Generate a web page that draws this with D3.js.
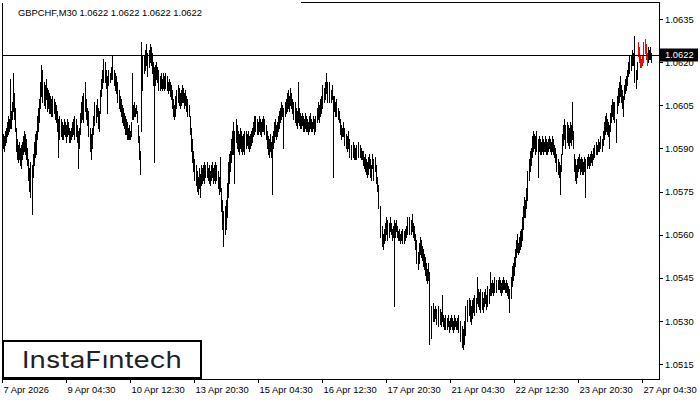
<!DOCTYPE html>
<html>
<head>
<meta charset="utf-8">
<script src="https://cdn.jsdelivr.net/npm/d3@7"></script>
<style>
  body { margin: 0; background: #fff; }
  svg { display: block; }
  .axis text { font-family: "Liberation Sans", Arial, sans-serif; font-size: 9.4px; fill: #000; }
  .axis line { stroke: #000; }
</style>
</head>
<body>
<div id="chart"></div>
<script>
const WIDTH = 700;
const HEIGHT = 400;

const SYMBOL = "GBPCHF,M30";
const LAST_OHLC = [1.0622, 1.0622, 1.0622, 1.0622];
const LAST_PRICE = 1.0622;
const PRICE_TICKS = [1.0515, 1.0530, 1.0545, 1.0560, 1.0575, 1.0590, 1.0605, 1.0620, 1.0635];
const TIME_LABELS = ["7 Apr 2026", "9 Apr 04:30", "10 Apr 12:30", "13 Apr 20:30", "15 Apr 04:30",
    "16 Apr 12:30", "17 Apr 20:30", "21 Apr 04:30", "22 Apr 12:30", "23 Apr 20:30", "27 Apr 04:30"];
const TIME_TICK_BARS = [0, 64, 128, 192, 256, 320, 384, 448, 512, 576, 640];
// bars of the marked pattern (drawn red)
const PATTERN_BARS = [636, 645];

// M30 bar highs / lows, oldest first
const HIGHS = [
    1.0596,1.0595,1.0594,1.0596,1.0597,1.0599,1.0601,1.0600,1.0614,1.0603,
    1.0606,1.0616,1.0609,1.0604,1.0597,1.0593,1.0591,1.0592,1.0590,1.0591,
    1.0592,1.0594,1.0596,1.0595,1.0593,1.0590,1.0586,1.0583,1.0581,1.0585,
    1.0584,1.0588,1.0592,1.0595,1.0596,1.0601,1.0604,1.0607,1.0613,1.0619,
    1.0617,1.0614,1.0613,1.0612,1.0614,1.0611,1.0610,1.0609,1.0608,1.0607,
    1.0608,1.0606,1.0607,1.0606,1.0605,1.0603,1.0600,1.0599,1.0601,1.0600,
    1.0599,1.0598,1.0600,1.0599,1.0598,1.0600,1.0599,1.0597,1.0596,1.0597,
    1.0599,1.0600,1.0599,1.0601,1.0600,1.0598,1.0596,1.0597,1.0602,1.0606,
    1.0608,1.0606,1.0609,1.0613,1.0607,1.0604,1.0603,1.0601,1.0597,1.0595,
    1.0597,1.0601,1.0604,1.0606,1.0605,1.0607,1.0604,1.0603,1.0610,1.0614,
    1.0617,1.0619,1.0621,1.0620,1.0617,1.0615,1.0616,1.0617,1.0616,1.0618,
    1.0622,1.0619,1.0617,1.0616,1.0615,1.0613,1.0611,1.0610,1.0608,1.0607,
    1.0605,1.0604,1.0602,1.0601,1.0600,1.0599,1.0597,1.0598,1.0596,1.0599,
    1.0616,1.0605,1.0606,1.0604,1.0605,1.0603,1.0598,1.0594,1.0589,1.0627,
    1.0622,1.0620,1.0622,1.0624,1.0626,1.0623,1.0621,1.0624,1.0626,1.0625,
    1.0623,1.0620,1.0618,1.0619,1.0620,1.0618,1.0616,1.0617,1.0615,1.0616,
    1.0614,1.0616,1.0615,1.0614,1.0616,1.0615,1.0613,1.0614,1.0613,1.0612,
    1.0610,1.0607,1.0605,1.0606,1.0608,1.0610,1.0612,1.0611,1.0609,1.0610,
    1.0612,1.0611,1.0609,1.0610,1.0608,1.0606,1.0607,1.0605,1.0601,1.0597,
    1.0593,1.0589,1.0586,1.0585,1.0584,1.0582,1.0580,1.0583,1.0581,1.0584,
    1.0583,1.0584,1.0585,1.0583,1.0584,1.0585,1.0583,1.0584,1.0582,1.0584,
    1.0585,1.0583,1.0584,1.0582,1.0585,1.0584,1.0582,1.0580,1.0587,1.0576,
    1.0572,1.0568,1.0566,1.0570,1.0572,1.0578,1.0585,1.0588,1.0589,1.0593,
    1.0596,1.0599,1.0597,1.0596,1.0600,1.0598,1.0596,1.0595,1.0597,1.0596,
    1.0594,1.0595,1.0596,1.0594,1.0596,1.0595,1.0596,1.0594,1.0595,1.0596,
    1.0597,1.0599,1.0601,1.0600,1.0601,1.0600,1.0599,1.0601,1.0600,1.0599,
    1.0600,1.0601,1.0599,1.0600,1.0598,1.0596,1.0594,1.0593,1.0595,1.0592,
    1.0594,1.0596,1.0599,1.0600,1.0598,1.0599,1.0601,1.0603,1.0604,1.0606,
    1.0605,1.0604,1.0603,1.0606,1.0607,1.0609,1.0610,1.0608,1.0611,1.0609,
    1.0607,1.0606,1.0605,1.0606,1.0604,1.0603,1.0613,1.0604,1.0602,1.0601,
    1.0602,1.0601,1.0600,1.0602,1.0601,1.0600,1.0599,1.0601,1.0602,1.0600,
    1.0599,1.0601,1.0600,1.0599,1.0601,1.0604,1.0606,1.0605,1.0607,1.0608,
    1.0610,1.0612,1.0611,1.0613,1.0616,1.0613,1.0612,1.0613,1.0611,1.0610,
    1.0612,1.0608,1.0608,1.0606,1.0607,1.0605,1.0604,1.0603,1.0600,1.0598,
    1.0597,1.0599,1.0596,1.0597,1.0595,1.0594,1.0596,1.0593,1.0592,1.0591,
    1.0590,1.0592,1.0591,1.0590,1.0589,1.0591,1.0592,1.0590,1.0591,1.0590,
    1.0589,1.0589,1.0587,1.0588,1.0586,1.0585,1.0587,1.0588,1.0586,1.0584,
    1.0588,1.0586,1.0585,1.0587,1.0584,1.0580,1.0577,1.0574,1.0570,1.0566,
    1.0563,1.0560,1.0562,1.0564,1.0566,1.0565,1.0563,1.0564,1.0566,1.0564,
    1.0562,1.0563,1.0565,1.0564,1.0565,1.0563,1.0561,1.0562,1.0560,1.0561,
    1.0562,1.0560,1.0561,1.0562,1.0563,1.0565,1.0566,1.0564,1.0566,1.0565,
    1.0567,1.0564,1.0563,1.0560,1.0558,1.0556,1.0554,1.0557,1.0559,1.0558,
    1.0556,1.0555,1.0553,1.0552,1.0550,1.0548,1.0550,1.0547,1.0544,1.0532,
    1.0535,1.0536,1.0534,1.0535,1.0533,1.0534,1.0533,1.0535,1.0534,1.0533,
    1.0539,1.0532,1.0531,1.0532,1.0530,1.0531,1.0532,1.0530,1.0531,1.0532,
    1.0531,1.0530,1.0532,1.0531,1.0530,1.0531,1.0530,1.0532,1.0530,1.0529,
    1.0528,1.0527,1.0530,1.0533,1.0535,1.0537,1.0536,1.0538,1.0537,1.0535,
    1.0537,1.0538,1.0539,1.0537,1.0538,1.0545,1.0541,1.0540,1.0539,1.0541,
    1.0540,1.0538,1.0540,1.0541,1.0539,1.0540,1.0542,1.0541,1.0547,1.0543,
    1.0544,1.0543,1.0544,1.0545,1.0544,1.0543,1.0544,1.0545,1.0544,1.0543,
    1.0544,1.0545,1.0544,1.0543,1.0544,1.0543,1.0542,1.0541,1.0540,1.0545,
    1.0549,1.0550,1.0552,1.0555,1.0558,1.0560,1.0557,1.0559,1.0561,1.0562,
    1.0566,1.0570,1.0573,1.0572,1.0576,1.0579,1.0582,1.0586,1.0589,1.0590,
    1.0594,1.0596,1.0595,1.0594,1.0596,1.0595,1.0593,1.0594,1.0593,1.0592,
    1.0594,1.0593,1.0592,1.0594,1.0593,1.0592,1.0593,1.0594,1.0593,1.0592,
    1.0594,1.0593,1.0591,1.0590,1.0588,1.0587,1.0586,1.0585,1.0584,1.0588,
    1.0595,1.0598,1.0600,1.0598,1.0597,1.0599,1.0598,1.0597,1.0599,1.0598,
    1.0606,1.0596,1.0588,1.0586,1.0584,1.0586,1.0587,1.0588,1.0586,1.0587,
    1.0586,1.0585,1.0587,1.0586,1.0585,1.0587,1.0588,1.0587,1.0588,1.0589,
    1.0588,1.0590,1.0591,1.0590,1.0592,1.0591,1.0593,1.0592,1.0593,1.0594,
    1.0593,1.0596,1.0599,1.0601,1.0602,1.0600,1.0599,1.0598,1.0602,1.0605,
    1.0607,1.0606,1.0604,1.0606,1.0600,1.0608,1.0611,1.0613,1.0615,1.0612,
    1.0610,1.0608,1.0612,1.0614,1.0615,1.0617,1.0620,1.0622,1.0621,1.0622,
    1.0624,1.0623,1.0629,1.0621,1.0617,1.0620,1.0627,1.0625,1.0622,1.0621,
    1.0622,1.0624,1.0627,1.0628,1.0626,1.0623,1.0625,1.0624,1.0625,1.0623
];
const LOWS = [
    1.0590,1.0590,1.0589,1.0591,1.0592,1.0594,1.0595,1.0596,1.0597,1.0597,
    1.0600,1.0603,1.0600,1.0596,1.0589,1.0586,1.0585,1.0586,1.0584,1.0583,
    1.0586,1.0588,1.0589,1.0588,1.0586,1.0584,1.0579,1.0575,1.0573,1.0576,
    1.0567,1.0580,1.0584,1.0587,1.0588,1.0593,1.0596,1.0599,1.0604,1.0608,
    1.0609,1.0606,1.0605,1.0604,1.0607,1.0603,1.0604,1.0602,1.0602,1.0601,
    1.0603,1.0601,1.0602,1.0600,1.0599,1.0596,1.0587,1.0593,1.0594,1.0594,
    1.0593,1.0593,1.0595,1.0594,1.0592,1.0594,1.0595,1.0592,1.0592,1.0593,
    1.0594,1.0595,1.0593,1.0596,1.0594,1.0592,1.0583,1.0590,1.0595,1.0599,
    1.0600,1.0599,1.0602,1.0603,1.0600,1.0598,1.0596,1.0594,1.0589,1.0586,
    1.0590,1.0595,1.0598,1.0600,1.0599,1.0601,1.0597,1.0596,1.0602,1.0608,
    1.0611,1.0613,1.0614,1.0613,1.0611,1.0602,1.0612,1.0613,1.0613,1.0614,
    1.0616,1.0614,1.0612,1.0610,1.0609,1.0608,1.0606,1.0604,1.0603,1.0601,
    1.0599,1.0598,1.0597,1.0595,1.0595,1.0593,1.0593,1.0593,1.0593,1.0594,
    1.0600,1.0600,1.0601,1.0601,1.0602,1.0599,1.0592,1.0586,1.0581,1.0596,
    1.0610,1.0613,1.0616,1.0617,1.0619,1.0617,1.0615,1.0618,1.0620,1.0619,
    1.0616,1.0612,1.0585,1.0612,1.0614,1.0613,1.0610,1.0612,1.0610,1.0611,
    1.0610,1.0611,1.0610,1.0611,1.0611,1.0610,1.0609,1.0610,1.0608,1.0607,
    1.0604,1.0601,1.0600,1.0601,1.0603,1.0604,1.0606,1.0605,1.0604,1.0605,
    1.0606,1.0606,1.0604,1.0605,1.0603,1.0602,1.0601,1.0601,1.0595,1.0589,
    1.0585,1.0582,1.0580,1.0579,1.0577,1.0575,1.0574,1.0576,1.0573,1.0577,
    1.0578,1.0579,1.0579,1.0578,1.0580,1.0580,1.0579,1.0578,1.0577,1.0579,
    1.0580,1.0578,1.0579,1.0578,1.0580,1.0579,1.0576,1.0574,1.0575,1.0568,
    1.0562,1.0558,1.0556,1.0560,1.0562,1.0566,1.0573,1.0578,1.0582,1.0585,
    1.0588,1.0591,1.0588,1.0578,1.0592,1.0590,1.0589,1.0588,1.0590,1.0589,
    1.0588,1.0589,1.0590,1.0588,1.0590,1.0591,1.0590,1.0589,1.0590,1.0591,
    1.0592,1.0594,1.0595,1.0596,1.0596,1.0595,1.0595,1.0596,1.0595,1.0594,
    1.0596,1.0596,1.0595,1.0595,1.0593,1.0590,1.0588,1.0587,1.0589,1.0587,
    1.0574,1.0590,1.0592,1.0594,1.0593,1.0594,1.0596,1.0597,1.0599,1.0600,
    1.0601,1.0599,1.0590,1.0601,1.0602,1.0603,1.0604,1.0603,1.0605,1.0604,
    1.0602,1.0601,1.0600,1.0599,1.0598,1.0597,1.0599,1.0598,1.0597,1.0597,
    1.0598,1.0596,1.0596,1.0597,1.0596,1.0596,1.0595,1.0596,1.0597,1.0596,
    1.0596,1.0597,1.0595,1.0596,1.0597,1.0599,1.0600,1.0599,1.0601,1.0602,
    1.0604,1.0606,1.0606,1.0607,1.0609,1.0607,1.0606,1.0608,1.0606,1.0606,
    1.0607,1.0580,1.0603,1.0601,1.0602,1.0601,1.0600,1.0599,1.0595,1.0593,
    1.0594,1.0594,1.0592,1.0591,1.0590,1.0589,1.0590,1.0588,1.0587,1.0587,
    1.0586,1.0587,1.0586,1.0586,1.0586,1.0587,1.0588,1.0587,1.0587,1.0586,
    1.0586,1.0584,1.0583,1.0582,1.0581,1.0580,1.0581,1.0583,1.0580,1.0579,
    1.0583,1.0581,1.0579,1.0582,1.0578,1.0575,1.0571,1.0569,1.0564,1.0559,
    1.0556,1.0555,1.0557,1.0558,1.0560,1.0559,1.0558,1.0559,1.0561,1.0560,
    1.0558,1.0559,1.0535,1.0559,1.0561,1.0559,1.0558,1.0558,1.0557,1.0558,
    1.0558,1.0557,1.0557,1.0558,1.0559,1.0560,1.0561,1.0560,1.0561,1.0560,
    1.0561,1.0559,1.0558,1.0555,1.0552,1.0550,1.0548,1.0550,1.0553,1.0552,
    1.0551,1.0549,1.0548,1.0546,1.0544,1.0543,1.0544,1.0542,1.0522,1.0524,
    1.0529,1.0530,1.0530,1.0531,1.0530,1.0529,1.0528,1.0530,1.0529,1.0528,
    1.0530,1.0528,1.0527,1.0528,1.0527,1.0527,1.0528,1.0526,1.0527,1.0528,
    1.0527,1.0526,1.0527,1.0528,1.0527,1.0527,1.0526,1.0527,1.0525,1.0523,
    1.0521,1.0520,1.0522,1.0525,1.0529,1.0530,1.0531,1.0532,1.0530,1.0529,
    1.0531,1.0533,1.0533,1.0532,1.0533,1.0536,1.0535,1.0534,1.0533,1.0535,
    1.0534,1.0533,1.0535,1.0536,1.0534,1.0535,1.0536,1.0536,1.0539,1.0539,
    1.0540,1.0539,1.0540,1.0541,1.0540,1.0540,1.0541,1.0541,1.0540,1.0539,
    1.0540,1.0541,1.0541,1.0540,1.0540,1.0539,1.0538,1.0536,1.0533,1.0538,
    1.0542,1.0544,1.0546,1.0549,1.0552,1.0554,1.0553,1.0554,1.0555,1.0556,
    1.0558,1.0562,1.0566,1.0566,1.0569,1.0572,1.0575,1.0579,1.0582,1.0584,
    1.0587,1.0589,1.0590,1.0588,1.0590,1.0589,1.0580,1.0589,1.0588,1.0588,
    1.0589,1.0588,1.0589,1.0589,1.0588,1.0588,1.0589,1.0590,1.0589,1.0588,
    1.0589,1.0588,1.0587,1.0585,1.0583,1.0582,1.0581,1.0580,1.0574,1.0582,
    1.0588,1.0591,1.0593,1.0592,1.0590,1.0592,1.0591,1.0590,1.0592,1.0591,
    1.0593,1.0590,1.0582,1.0579,1.0578,1.0580,1.0582,1.0583,1.0581,1.0582,
    1.0581,1.0581,1.0582,1.0581,1.0573,1.0583,1.0584,1.0583,1.0584,1.0585,
    1.0584,1.0586,1.0587,1.0587,1.0588,1.0588,1.0589,1.0589,1.0590,1.0590,
    1.0589,1.0591,1.0593,1.0595,1.0596,1.0595,1.0594,1.0590,1.0596,1.0599,
    1.0601,1.0600,1.0599,1.0600,1.0592,1.0602,1.0605,1.0606,1.0608,1.0606,
    1.0604,1.0601,1.0607,1.0609,1.0610,1.0612,1.0615,1.0616,1.0617,1.0617,
    1.0619,1.0619,1.0621,1.0613,1.0611,1.0614,1.0622,1.0620,1.0618,1.0618,
    1.0619,1.0620,1.0622,1.0623,1.0621,1.0619,1.0620,1.0621,1.0621,1.0620
];

const frame = { left: 2, right: 659, top: 2, bottom: 379 };

const svg = d3.select("#chart").append("svg")
    .attr("width", WIDTH)
    .attr("height", HEIGHT)
    .style("font-family", "'Liberation Sans', Arial, sans-serif");

const bars = HIGHS.map((h, i) => ({ i: i, high: h, low: LOWS[i] }));

const x = d3.scaleLinear()
    .domain([0, bars.length])
    .range([frame.left, frame.left + bars.length]);

const y = d3.scaleLinear()
    .domain([1.0515, 1.0635])
    .range([364.3, 19]);

// frame
svg.append("g").attr("shape-rendering", "crispEdges").attr("stroke", "#000")
    .selectAll("line")
    .data([
        [frame.left, frame.top, frame.left, frame.bottom],
        [frame.right, frame.top, frame.right, frame.bottom],
        [frame.left, frame.bottom, frame.right, frame.bottom],
        [300, frame.top, frame.right, frame.top]
    ])
    .enter().append("line")
    .attr("x1", d => d[0] + 0.5).attr("y1", d => d[1] + 0.5)
    .attr("x2", d => d[2] + 0.5).attr("y2", d => d[3] + 0.5);

// price axis
const yAxis = svg.append("g")
    .attr("class", "axis")
    .attr("transform", "translate(" + frame.right + ",0)")
    .call(d3.axisRight(y).tickValues(PRICE_TICKS).tickSize(4).tickPadding(2)
        .tickFormat(d3.format(".4f")));
yAxis.select(".domain").remove();
yAxis.selectAll("line").attr("shape-rendering", "crispEdges");

// time axis
const xAxis = svg.append("g")
    .attr("class", "axis")
    .attr("transform", "translate(0," + frame.bottom + ")")
    .call(d3.axisBottom(x).tickValues(TIME_TICK_BARS).tickSize(4).tickPadding(3)
        .tickFormat((d, i) => TIME_LABELS[i]));
xAxis.select(".domain").remove();
xAxis.selectAll("line").attr("shape-rendering", "crispEdges");
xAxis.selectAll("text").attr("text-anchor", "start").attr("x", 1);

// bars
svg.append("g")
    .attr("shape-rendering", "crispEdges")
    .selectAll("line")
    .data(bars)
    .enter().append("line")
    .attr("x1", d => Math.floor(x(d.i)) + 0.5)
    .attr("x2", d => Math.floor(x(d.i)) + 0.5)
    .attr("y1", d => y(d.high) - 0.5)
    .attr("y2", d => y(d.low) + 0.5)
    .attr("stroke", d => (d.i >= PATTERN_BARS[0] && d.i <= PATTERN_BARS[1]) ? "#ff0000" : "#000")
    .attr("stroke-width", 1);

// last price line + label (covers the upper half of the 1.0620 label, as in the terminal)
const py = Math.round(y(LAST_PRICE)) - 0.5;
svg.append("line")
    .attr("x1", frame.left).attr("x2", frame.right)
    .attr("y1", py).attr("y2", py)
    .attr("stroke", "#000")
    .attr("shape-rendering", "crispEdges");
svg.append("rect")
    .attr("x", frame.right + 1).attr("y", py - 7)
    .attr("width", 38).attr("height", 13)
    .attr("fill", "#000");
svg.append("text")
    .attr("x", frame.right + 6).attr("y", py - 0.5)
    .attr("dy", "0.35em")
    .attr("fill", "#fff")
    .style("font-size", "9.4px")
    .text(d3.format(".4f")(LAST_PRICE));

// title
svg.append("text")
    .attr("x", 18).attr("y", 15.5)
    .style("font-size", "9.4px")
    .attr("fill", "#000")
    .text(SYMBOL + "  " + LAST_OHLC.map(d3.format(".4f")).join(" "));

// logo box
svg.append("rect")
    .attr("x", 3).attr("y", 341)
    .attr("width", 198).attr("height", 37)
    .attr("fill", "#fff")
    .attr("stroke", "#000")
    .attr("stroke-width", 2);
svg.append("text")
    .attr("x", 22).attr("y", 367.5)
    .attr("textLength", 160)
    .attr("lengthAdjust", "spacingAndGlyphs")
    .style("font-family", "Inter, 'Open Sans', sans-serif")
    .style("font-size", "23px")
    .style("font-weight", 400)
    .attr("fill", "#222")
    .text("InstaF\u0131ntech");
</script>
</body>
</html>
